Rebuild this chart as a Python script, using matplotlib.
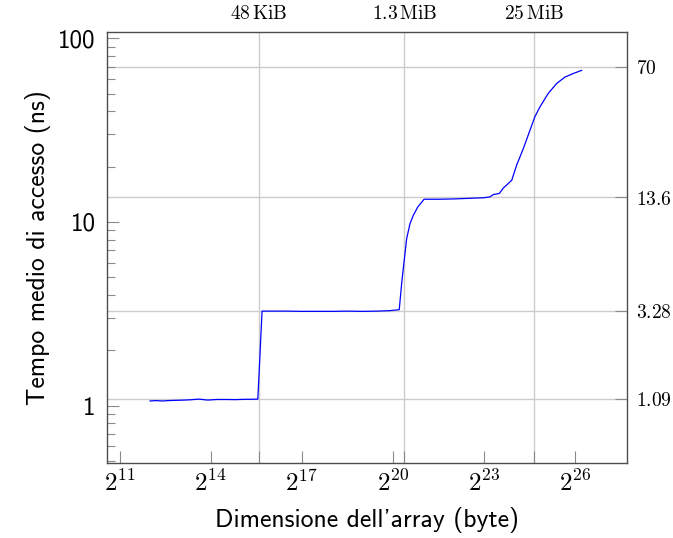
import numpy as np
import matplotlib
matplotlib.use("Agg")
import matplotlib.pyplot as plt
from matplotlib.ticker import FixedLocator, FixedFormatter, NullFormatter

plt.rcParams['mathtext.fontset'] = 'cm'

# array size as power of two, and mean access time (ns)
size_exp = [12.0, 12.2, 12.4, 12.6, 12.8, 13.0, 13.3, 13.6, 13.9, 14.2, 14.5, 14.8, 15.1, 15.4, 15.55,
            15.69, 16.0, 16.5, 17.0, 17.5, 18.0, 18.5, 19.0, 19.5, 19.9, 20.21,
            20.30, 20.455, 20.565, 20.674, 20.82,
            21.03, 21.5, 22.0, 22.5, 23.0, 23.2,
            23.31, 23.51, 23.64, 23.77, 23.92, 24.08, 24.30, 24.52, 24.68, 24.85,
            25.12, 25.40, 25.67, 25.95, 26.22]
access_ns = [1.06, 1.065, 1.06, 1.065, 1.068, 1.07, 1.075, 1.085, 1.072, 1.08, 1.08, 1.078, 1.082, 1.083, 1.085,
             3.27, 3.27, 3.27, 3.26, 3.26, 3.26, 3.27, 3.26, 3.27, 3.29, 3.33,
             4.80, 8.11, 9.79, 10.87, 12.06,
             13.3, 13.3, 13.35, 13.45, 13.55, 13.7,
             14.1, 14.3, 15.3, 16.0, 16.9, 20.4, 25.1, 31.6, 37.4, 42.4,
             50.1, 56.8, 61.5, 64.4, 66.9]

# cache sizes (top axis) and plateau levels (right axis)
cache_bytes = [48 * 1024, 1.3 * 2**20, 25 * 2**20]
cache_labels = [r'$48\,\mathrm{KiB}$', r'$1.3\,\mathrm{MiB}$', r'$25\,\mathrm{MiB}$']
level_ns = [70, 13.6, 3.28, 1.09]
level_labels = [r'$70$', r'$13.6$', r'$3.28$', r'$1.09$']

x_exp_ticks = [11, 14, 17, 20, 23, 26]
y_ticks = [1, 10, 100]
y_tick_labels = ['1', '10', '100']

xlim = (2**10.575, 2**27.727)
ylim = (0.487, 108.7)

sizes = 2.0 ** np.array(size_exp)

fig = plt.figure(figsize=(6.73, 5.38), dpi=100)
fig.patch.set_facecolor('white')
ax = fig.add_axes([0.1588, 0.1394, 0.7733, 0.8017])

spine_col = '#4d4d4d'
tick_col = '#8a8a8a'
grid_col = '#cccccc'

ax.plot(sizes, access_ns, color='#0000ff', lw=0.9, zorder=3)
ax.set_xscale('log', base=2)
ax.set_yscale('log')
ax.set_xlim(*xlim)
ax.set_ylim(*ylim)

ax.xaxis.set_major_locator(FixedLocator([2.0**e for e in x_exp_ticks]))
ax.xaxis.set_major_formatter(FixedFormatter(['$2^{%d}$' % e for e in x_exp_ticks]))
ax.xaxis.set_minor_locator(FixedLocator(cache_bytes))
ax.xaxis.set_minor_formatter(NullFormatter())

ax.yaxis.set_major_locator(FixedLocator(y_ticks))
ax.yaxis.set_major_formatter(FixedFormatter(y_tick_labels))
ax.yaxis.set_minor_formatter(NullFormatter())

ax.tick_params(axis='both', which='both', direction='in', top=True, right=True, color=tick_col, width=0.8)
ax.tick_params(axis='both', which='major', length=8.5)
ax.tick_params(axis='y', which='minor', length=5.5)
ax.tick_params(axis='x', which='minor', length=8.5)
ax.tick_params(axis='x', which='major', labelsize=18, pad=5)
ax.tick_params(axis='y', which='major', labelsize=18, pad=8, labelfontfamily='cmss10')

for s in ax.spines.values():
    s.set_color(spine_col)
    s.set_linewidth(1.0)

ax.set_xlabel("Dimensione dell'array (byte)", fontsize=18.5, fontfamily='cmss10', labelpad=8)
ax.set_ylabel("Tempo medio di accesso (ns)", fontsize=18.5, fontfamily='cmss10', labelpad=5)

# right axis: plateau levels with horizontal grid lines
axr = ax.twinx()
axr.set_yscale('log')
axr.set_ylim(*ylim)
axr.yaxis.set_major_locator(FixedLocator(level_ns))
axr.yaxis.set_major_formatter(FixedFormatter(level_labels))
axr.yaxis.set_minor_locator(FixedLocator([]))
axr.tick_params(axis='y', direction='in', length=8.5, color=tick_col, width=0.8, labelsize=14, pad=6)
axr.grid(axis='y', color=grid_col, lw=1.0)

# top axis: cache sizes with vertical grid lines
axt = ax.twiny()
axt.set_xscale('log', base=2)
axt.set_xlim(*xlim)
axt.xaxis.set_major_locator(FixedLocator(cache_bytes))
axt.xaxis.set_major_formatter(FixedFormatter(cache_labels))
axt.xaxis.set_minor_locator(FixedLocator([]))
axt.tick_params(axis='x', direction='in', length=0, labelsize=14, pad=6)
axt.grid(axis='x', color=grid_col, lw=1.0)

for a in (axr, axt):
    for s in a.spines.values():
        s.set_visible(False)

ax.set_zorder(5)
ax.patch.set_visible(False)

fig.savefig('out.png', dpi=100, facecolor='white')
